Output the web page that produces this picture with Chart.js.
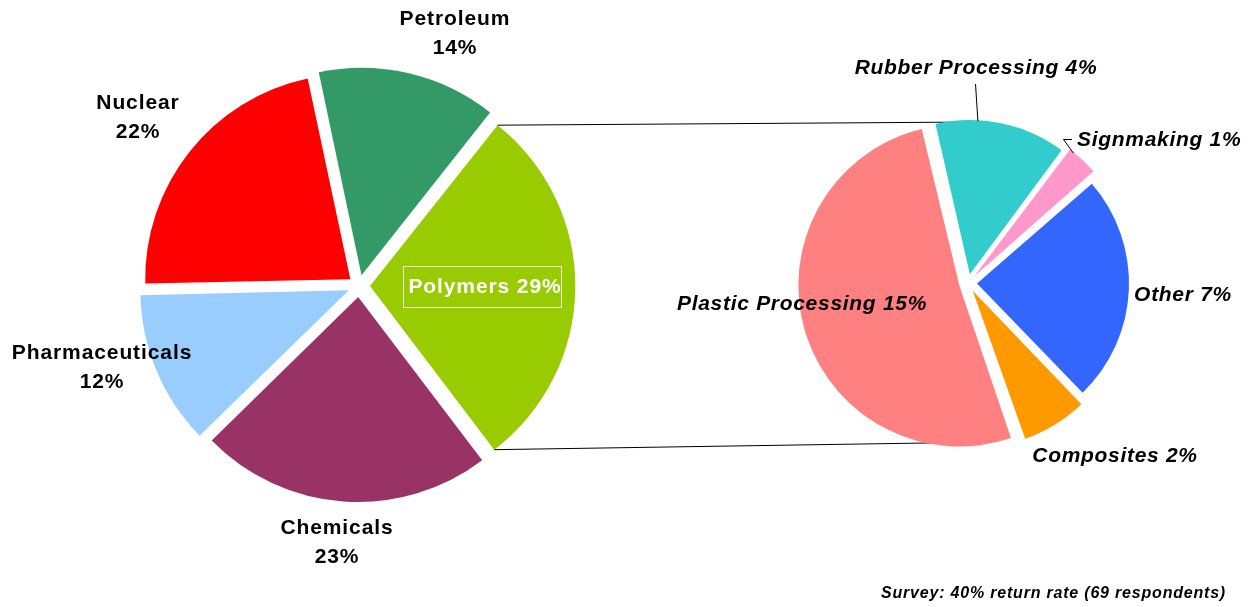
<!DOCTYPE html>
<html lang="en">
<head>
<meta charset="UTF-8">
<title>Industry breakdown</title>
<script src="https://cdn.jsdelivr.net/npm/chart.js"></script>
<style>
  html, body { margin: 0; padding: 0; background: #fff; }
  #wrap { position: relative; width: 1253px; height: 607px; overflow: hidden; }
  #wrap canvas { position: absolute; left: 0; top: 0; }
</style>
</head>
<body>
<div id="wrap">
  <canvas id="mainPie" width="1253" height="607"></canvas>
  <canvas id="polyPie" width="1253" height="607"></canvas>
</div>
<script>
// main pie: industries
const sectors = ['Petroleum', 'Polymers', 'Chemicals', 'Pharmaceuticals', 'Nuclear'];
const sectorShare = [14, 29, 23, 12, 22];
const sectorColors = ['#339966', '#99cc00', '#993366', '#99ccff', '#ff0000'];

// secondary pie: breakdown of the polymers slice
const polymerUses = ['Rubber Processing', 'Signmaking', 'Other', 'Composites', 'Plastic Processing'];
const polymerShare = [4, 1, 7, 2, 15];
const polymerColors = ['#33cccc', '#ff99cc', '#3366ff', '#ff9900', '#ff8080'];

const surveyNote = 'Survey: 40% return rate (69 respondents)';

// Chart.js moves an arc out by offset / 4 when drawing it
const SHIFT_DIV = 4;
const DEG = Math.PI / 180;

// point on the drawn (exploded) outer edge of arc i, at angle a (radians, canvas convention)
function arcAt(chart, i, a, scale) {
  const arc = chart.getDatasetMeta(0).data[i];
  const off = (arc.options.offset || 0) / SHIFT_DIV;
  const mid = (arc.startAngle + arc.endAngle) / 2;
  const circ = arc.endAngle - arc.startAngle;
  const grow = off * (1 - Math.sin(Math.min(Math.PI, circ)));
  const r = (arc.outerRadius + grow) * (scale === undefined ? 1 : scale);
  return {
    x: arc.x + Math.cos(mid) * off + Math.cos(a) * r,
    y: arc.y + Math.sin(mid) * off + Math.sin(a) * r
  };
}

function text(ctx, str, x, y, font, align, color, spacing) {
  ctx.save();
  ctx.font = font;
  ctx.letterSpacing = spacing || '0px';
  ctx.fillStyle = color || '#000';
  ctx.textAlign = align || 'center';
  ctx.textBaseline = 'middle';
  ctx.fillText(str, x, y);
  ctx.restore();
}

const boldFont = 'bold 21px "Liberation Sans", Arial, sans-serif';
const italicFont = 'italic bold 21px "Liberation Sans", Arial, sans-serif';

// outside labels of the main pie: [index, x, y]
const mainLabelSpots = [
  [0, 455, 19],
  [2, 337, 528],
  [3, 102, 353],
  [4, 138, 103]
];

// labels of the secondary pie: [index, x, y, align]
const polyLabelSpots = [
  [0, 976, 68, 'center'],
  [1, 1077, 140, 'left'],
  [2, 1183, 295, 'center'],
  [3, 1115, 456, 'center'],
  [4, 802, 304, 'center']
];

let polyChart = null;

const mainDecor = {
  id: 'mainDecor',
  afterDatasetsDraw(chart) {
    const ctx = chart.ctx;
    const meta = chart.getDatasetMeta(0);
    const poly = meta.data[1];

    // lines joining the polymers slice to the secondary pie
    if (polyChart) {
      const a = arcAt(chart, 1, poly.startAngle);
      const b = arcAt(chart, 1, poly.endAngle);
      const top = arcAt(polyChart, 0, -90 * DEG);
      const bottom = arcAt(polyChart, 4, 90 * DEG);
      ctx.save();
      ctx.strokeStyle = '#000';
      ctx.lineWidth = 1;
      ctx.beginPath();
      ctx.moveTo(a.x, a.y);
      ctx.lineTo(top.x, top.y + 2);
      ctx.moveTo(b.x, b.y);
      ctx.lineTo(bottom.x, bottom.y - 4);
      ctx.stroke();
      ctx.restore();
    }

    mainLabelSpots.forEach(([i, x, y]) => {
      text(ctx, sectors[i], x, y, boldFont, 'center', '#000', '0.9px');
      text(ctx, sectorShare[i] + '%', x, y + 29, boldFont, 'center', '#000', '0.9px');
    });

    // polymers label sits inside its slice, white with a thin frame
    const mid = (poly.startAngle + poly.endAngle) / 2;
    const p = arcAt(chart, 1, mid, 0.56);
    ctx.save();
    ctx.strokeStyle = 'rgba(255,255,255,0.85)';
    ctx.lineWidth = 1;
    ctx.strokeRect(Math.round(p.x - 82) + 0.5, Math.round(p.y - 21) + 0.5, 158, 41);
    ctx.restore();
    text(ctx, sectors[1] + ' ' + sectorShare[1] + '%', p.x, p.y, boldFont, 'center', '#fff', '0.9px');
  }
};

const polyDecor = {
  id: 'polyDecor',
  afterDatasetsDraw(chart) {
    const ctx = chart.ctx;
    const meta = chart.getDatasetMeta(0);

    // leader lines for the two small slices
    const rub = arcAt(chart, 0, -87 * DEG);
    const sgn = arcAt(chart, 1, meta.data[1].startAngle + 2 * DEG);
    ctx.save();
    ctx.strokeStyle = '#000';
    ctx.lineWidth = 1;
    ctx.beginPath();
    ctx.moveTo(975.5, 84);
    ctx.lineTo(rub.x, rub.y + 1);
    ctx.moveTo(1072, 139.5);
    ctx.lineTo(1063.5, 139.5);
    ctx.lineTo(sgn.x, sgn.y + 1);
    ctx.stroke();
    ctx.restore();

    polyLabelSpots.forEach(([i, x, y, align]) => {
      text(ctx, polymerUses[i] + ' ' + polymerShare[i] + '%', x, y, italicFont, align, '#000', '0.7px');
    });

    text(ctx, surveyNote, 1226, 594, 'italic bold 16px "Liberation Sans", Arial, sans-serif', 'right', '#000', '0.8px');
  }
};

const baseOptions = {
  responsive: false,
  animation: false,
  events: [],
  devicePixelRatio: 1,
  plugins: { legend: { display: false }, tooltip: { enabled: false } }
};

polyChart = new Chart(document.getElementById('polyPie'), {
  type: 'pie',
  data: {
    labels: polymerUses,
    datasets: [{
      data: polymerShare,
      backgroundColor: polymerColors,
      borderWidth: 0,
      offset: 36
    }]
  },
  options: Object.assign({}, baseOptions, {
    rotation: -13,
    radius: 152,
    layout: { padding: { left: 808, right: 125, top: 123, bottom: 164 } }
  }),
  plugins: [polyDecor]
});

new Chart(document.getElementById('mainPie'), {
  type: 'pie',
  data: {
    labels: sectors,
    datasets: [{
      data: sectorShare,
      backgroundColor: sectorColors,
      borderWidth: 0,
      offset: 44
    }]
  },
  options: Object.assign({}, baseOptions, {
    rotation: -12,
    radius: 205,
    layout: { padding: { left: 149, right: 684, top: 76, bottom: 111 } }
  }),
  plugins: [mainDecor]
});
</script>
</body>
</html>
